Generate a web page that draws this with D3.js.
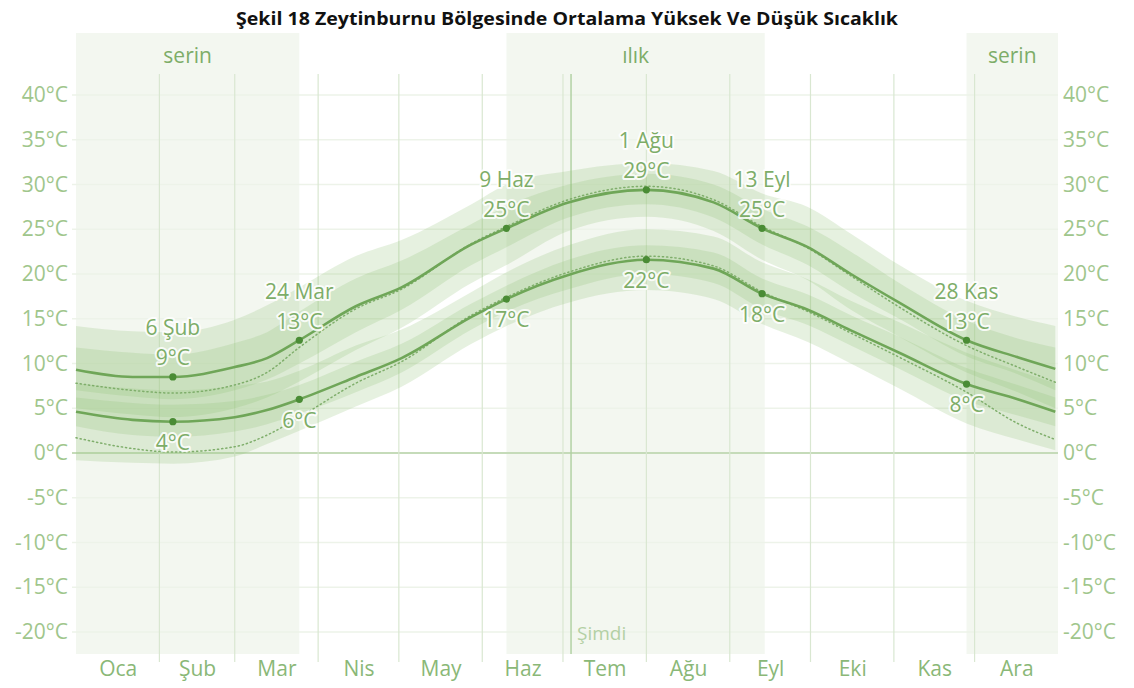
<!DOCTYPE html>
<html>
<head>
<meta charset="utf-8">
<script src="https://cdn.jsdelivr.net/npm/d3@7"></script>
<style>
  html, body { margin: 0; padding: 0; background: #ffffff; }
  svg { display: block; }
  text { font-family: "Open Sans", "Noto Sans", sans-serif; }
</style>
</head>
<body>
<svg id="chart" width="1134" height="688"></svg>
<script>
// ---------------- DATA ----------------
const titleText = "Şekil 18 Zeytinburnu Bölgesinde Ortalama Yüksek Ve Düşük Sıcaklık";

// day-of-year anchors (0 = 1 Oca)
const days = [0, 21, 36, 59, 71, 83, 104, 121, 147, 160, 183, 212, 237, 255, 272, 288, 306, 331, 350, 364];

// average high / low (°C)
const highAvg = [9.3, 8.5, 8.5, 9.6, 10.6, 12.6, 16.4, 18.5, 23.3, 25.1, 28.0, 29.4, 28.0, 25.1, 23.0, 20.0, 16.8, 12.6, 10.7, 9.4];
const lowAvg  = [4.6, 3.7, 3.5, 4.0, 4.8, 6.0, 8.5, 10.6, 15.2, 17.2, 19.9, 21.6, 20.6, 17.8, 16.0, 13.7, 11.2, 7.7, 6.0, 4.6];

// perceived (dotted) high / low
const highFeel = [7.8, 7.0, 6.7, 7.6, 9.0, 11.8, 16.1, 18.3, 23.4, 25.3, 28.3, 29.8, 28.3, 25.3, 22.9, 19.8, 16.3, 12.0, 9.6, 7.9];
const lowFeel  = [1.7, 0.5, 0.1, 0.7, 2.0, 4.0, 7.8, 10.2, 15.4, 17.4, 20.2, 22.0, 20.9, 18.0, 15.8, 13.4, 10.7, 6.8, 3.3, 1.5];

// percentile bands
const highP90 = [14.2, 13.6, 13.5, 14.9, 16.5, 18.5, 22.0, 23.8, 27.8, 30.0, 31.5, 32.4, 31.5, 29.0, 27.5, 24.5, 21.0, 17.0, 15.2, 14.2];
const highP75 = [11.8, 11.2, 11.0, 12.3, 13.5, 15.8, 19.5, 21.5, 25.6, 27.6, 30.0, 31.2, 30.0, 27.3, 25.3, 22.5, 19.0, 14.8, 12.8, 11.8];
const highP25 = [7.0, 6.3, 6.0, 7.0, 8.2, 10.0, 13.5, 16.0, 21.0, 23.0, 26.3, 27.8, 26.3, 23.3, 21.0, 18.0, 15.0, 10.8, 8.8, 7.0];
const highP10 = [5.0, 4.3, 4.0, 5.0, 6.2, 8.0, 11.5, 14.0, 19.0, 21.0, 24.8, 26.4, 24.8, 21.6, 19.3, 16.0, 13.0, 9.0, 6.8, 5.0];
const lowP90  = [7.8, 7.2, 7.0, 7.5, 8.0, 9.2, 12.0, 13.8, 18.0, 20.2, 23.2, 25.0, 24.2, 21.3, 19.4, 17.0, 14.6, 11.2, 9.2, 7.8];
const lowP75  = [6.2, 5.6, 5.4, 5.8, 6.5, 7.6, 10.2, 12.2, 16.7, 18.7, 21.6, 23.2, 22.4, 19.5, 17.7, 15.4, 13.0, 9.5, 7.6, 6.2];
const lowP25  = [3.0, 2.0, 1.8, 2.4, 3.2, 4.4, 6.8, 9.0, 13.8, 15.8, 18.3, 20.0, 19.0, 16.1, 14.3, 12.0, 9.4, 5.8, 4.2, 3.0];
const lowP10  = [-0.8, -1.1, -1.2, -0.4, 1.0, 2.5, 5.2, 7.4, 12.2, 14.2, 16.8, 18.2, 17.2, 14.4, 12.4, 10.0, 7.2, 3.3, 1.5, 0.3];

// months
const monthNames = ["Oca", "Şub", "Mar", "Nis", "May", "Haz", "Tem", "Ağu", "Eyl", "Eki", "Kas", "Ara"];
const monthStarts = [0, 31, 59, 90, 120, 151, 181, 212, 243, 273, 304, 334, 365];

// y ticks
const yTicks = [-20, -15, -10, -5, 0, 5, 10, 15, 20, 25, 30, 35, 40];

// seasons
const seasonLabels = ["serin", "ılık", "serin"];
const seasonStart = [0, 160, 331];
const seasonEnd = [83, 256, 365];

// annotated days (indices into days) and their date labels
const annotIndex = [2, 5, 9, 11, 13, 17];
const annotNames = ["6 Şub", "24 Mar", "9 Haz", "1 Ağu", "13 Eyl", "28 Kas"];

// now marker
const nowDay = 184;
const nowLabel = "Şimdi";

// ---------------- LAYOUT ----------------
const W = 1134, H = 688;
const plotLeft = 76, plotRight = 1058, plotTop = 33, plotBottom = 654;
const svg = d3.select("#chart");

const x = d3.scaleLinear().domain([0, 365]).range([plotLeft, plotRight]);
const y = d3.scaleLinear().domain([-20, 40]).range([632, 95]);

const colText = "#7dad68";
const colTick = "#9fc68c";
const colMonth = "#8ab877";
const colLine = "#6fa658";
const colDot = "#4a8c35";
const colBand = "#8dbd70";

// Title
svg.append("text")
  .attr("x", W / 2).attr("y", 25)
  .attr("text-anchor", "middle")
  .attr("font-family", "Lato, 'Open Sans', sans-serif")
  .attr("font-weight", "bold")
  .attr("font-size", 18)
  .attr("textLength", 662)
  .attr("lengthAdjust", "spacingAndGlyphs")
  .attr("fill", "#111")
  .text(titleText);

// Season shading
const gSeason = svg.append("g");
seasonLabels.forEach((lab, i) => {
  gSeason.append("rect")
    .attr("x", x(seasonStart[i])).attr("y", plotTop)
    .attr("width", x(seasonEnd[i]) - x(seasonStart[i]))
    .attr("height", plotBottom - plotTop)
    .attr("fill", "#f3f7f0");
  gSeason.append("text")
    .attr("x", (x(seasonStart[i]) + x(seasonEnd[i])) / 2)
    .attr("y", 56).attr("dy", "0.35em")
    .attr("text-anchor", "middle")
    .attr("font-size", 21)
    .attr("fill", colText)
    .text(lab);
});

// Horizontal grid
svg.append("g").selectAll("line").data(yTicks).join("line")
  .attr("x1", plotLeft - 4).attr("x2", plotRight)
  .attr("y1", d => y(d)).attr("y2", d => y(d))
  .attr("stroke", d => d === 0 ? "#c5dbb9" : "#edf3e9")
  .attr("stroke-width", d => d === 0 ? 2 : 1.5);

// Vertical month grid
svg.append("g").selectAll("line").data(monthStarts.slice(1, 12)).join("line")
  .attr("x1", d => x(d)).attr("x2", d => x(d))
  .attr("y1", 74).attr("y2", 662)
  .attr("stroke", "#d9e7d1").attr("stroke-width", 1.2);

// Now line
svg.append("line")
  .attr("x1", x(nowDay)).attr("x2", x(nowDay))
  .attr("y1", 74).attr("y2", plotBottom)
  .attr("stroke", "#aed0a0").attr("stroke-width", 1.4);
svg.append("text")
  .attr("x", x(nowDay) + 6).attr("y", 633).attr("dy", "0.35em")
  .attr("font-size", 19).attr("fill", "#b3d0a4")
  .text(nowLabel);

// Bands
const band = (lo, hi) => d3.area()
  .x((d, i) => x(days[i]))
  .y0((d, i) => y(lo[i]))
  .y1((d, i) => y(hi[i]))
  .curve(d3.curveMonotoneX)(days);

const gBand = svg.append("g");
[[highP10, highP90], [highP25, highP75], [lowP10, lowP90], [lowP25, lowP75]].forEach(([lo, hi]) => {
  gBand.append("path").attr("d", band(lo, hi))
    .attr("fill", colBand).attr("fill-opacity", 0.22);
});

// Lines
const line = arr => d3.line()
  .x((d, i) => x(days[i]))
  .y((d, i) => y(arr[i]))
  .curve(d3.curveMonotoneX)(days);

[highFeel, lowFeel].forEach(arr => {
  svg.append("path").attr("d", line(arr))
    .attr("fill", "none").attr("stroke", "#7fae6b")
    .attr("stroke-width", 1.5).attr("stroke-dasharray", "1.2,3")
    .attr("stroke-linecap", "round");
});
[highAvg, lowAvg].forEach(arr => {
  svg.append("path").attr("d", line(arr))
    .attr("fill", "none").attr("stroke", colLine)
    .attr("stroke-width", 2.6);
});

// Dots & annotations
const gAnn = svg.append("g");
annotIndex.forEach((idx, k) => {
  const d = days[idx];
  const hx = x(d), hy = y(highAvg[idx]), ly = y(lowAvg[idx]);
  gAnn.append("circle").attr("cx", hx).attr("cy", hy).attr("r", 3.6).attr("fill", colDot);
  gAnn.append("circle").attr("cx", hx).attr("cy", ly).attr("r", 3.6).attr("fill", colDot);
  const texts = [
    { t: annotNames[k], yy: hy - 49 },
    { t: Math.round(highAvg[idx]) + "°C", yy: hy - 19 },
    { t: Math.round(lowAvg[idx]) + "°C", yy: ly + 21 }
  ];
  texts.forEach(o => {
    gAnn.append("text")
      .attr("x", hx).attr("y", o.yy).attr("dy", "0.35em")
      .attr("text-anchor", "middle")
      .attr("font-size", 21)
      .attr("fill", colText)
      .attr("stroke", "#ffffff").attr("stroke-width", 4)
      .attr("stroke-opacity", 0.85)
      .attr("paint-order", "stroke")
      .attr("stroke-linejoin", "round")
      .text(o.t);
  });
});

// Axes
const fmt = d => d + "°C";
const yLeft = svg.append("g").attr("transform", `translate(${plotLeft},0)`)
  .call(d3.axisLeft(y).tickValues(yTicks).tickFormat(fmt).tickSize(0).tickPadding(8));
const yRight = svg.append("g").attr("transform", `translate(${plotRight},0)`)
  .call(d3.axisRight(y).tickValues(yTicks).tickFormat(fmt).tickSize(0).tickPadding(5));
[yLeft, yRight].forEach(g => {
  g.select(".domain").remove();
  g.selectAll("text").attr("font-size", 21).attr("fill", colTick)
    .attr("font-family", "'Open Sans', sans-serif");
});

const monthMids = monthNames.map((m, i) => (monthStarts[i] + monthStarts[i + 1]) / 2);
const xAxis = svg.append("g").attr("transform", `translate(0,${658})`)
  .call(d3.axisBottom(x).tickValues(monthMids).tickFormat((d, i) => monthNames[i]).tickSize(0).tickPadding(3));
xAxis.select(".domain").remove();
xAxis.selectAll("text").attr("font-size", 21).attr("fill", colMonth)
  .attr("font-family", "'Open Sans', sans-serif");
</script>
</body>
</html>
